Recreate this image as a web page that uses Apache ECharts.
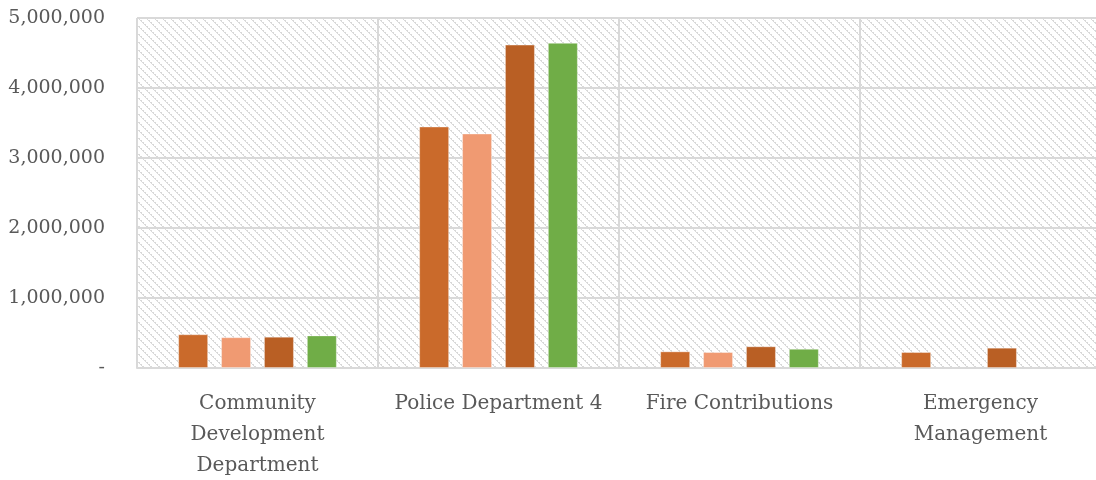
<!DOCTYPE html>
<html>
<head>
<meta charset="utf-8">
<script src="https://cdn.jsdelivr.net/npm/echarts@6/dist/echarts.min.js"></script>
<style>
  html, body { margin: 0; padding: 0; background: #ffffff; }
  #chart { width: 1096px; height: 480px; }
</style>
</head>
<body>
<div id="chart"></div>
<script>
// Departments (line breaks give the wrapped axis labels)
const categories = [
  'Community\nDevelopment\nDepartment',
  'Police Department 4',
  'Fire Contributions',
  'Emergency\nManagement'
];

// Four budget series per department
const series1 = [482000, 3450000, 238000, 228000];
const series2 = [440000, 3350000, 228000, null];
const series3 = [447000, 4620000, 310000, 290000];
const series4 = [466000, 4645000, 275000, null];

const yTicks = { min: 0, max: 5000000, step: 1000000 };

const seriesColors = ['#ca6a2b', '#f09a72', '#b95f24', '#70ad47'];

// Diagonal hatch tile for the plot background
function hatchTile() {
  const size = 8;
  const c = document.createElement('canvas');
  c.width = size; c.height = size;
  const ctx = c.getContext('2d');
  ctx.fillStyle = '#ffffff';
  ctx.fillRect(0, 0, size, size);
  ctx.fillStyle = '#d9d9d9';
  for (let y = 0; y < size; y++) {
    for (let x = 0; x < size; x++) {
      const d = ((x - y) % size + size) % size;
      if (d === 0 || (d === 1 && y % 2 === 0)) {
        ctx.fillRect(x, y, 1, 1);
      }
    }
  }
  return c;
}

const font = '"DejaVu Serif", serif';
const chart = echarts.init(document.getElementById('chart'), null, { renderer: 'canvas' });

function bar(data, color) {
  return {
    type: 'bar',
    data: data,
    barWidth: 30,
    barGap: '43%',
    itemStyle: { color: color, borderColor: 'rgba(255,255,255,0.35)', borderWidth: 1 }
  };
}

chart.setOption({
  animation: false,
  grid: {
    left: 137, right: -5, top: 18, bottom: 112,
    outerBoundsMode: 'none',
    containLabel: false,
    show: true,
    borderWidth: 0,
    backgroundColor: { image: hatchTile(), repeat: 'repeat' }
  },
  xAxis: {
    type: 'category',
    data: categories,
    axisLine: { show: true, lineStyle: { color: '#d9d9d9', width: 2 } },
    axisTick: { show: false },
    splitLine: { show: true, lineStyle: { color: '#d9d9d9', width: 2 } },
    axisLabel: {
      color: '#595959',
      fontFamily: font,
      fontSize: 20,
      lineHeight: 31,
      margin: 20,
      interval: 0
    }
  },
  yAxis: {
    type: 'value',
    min: yTicks.min,
    max: yTicks.max,
    interval: yTicks.step,
    axisLine: { show: false },
    axisTick: { show: false },
    splitLine: { show: true, lineStyle: { color: '#d9d9d9', width: 2 } },
    axisLabel: {
      color: '#595959',
      fontFamily: font,
      fontSize: 19,
      margin: 32,
      formatter: v => v === 0 ? '-' : v.toLocaleString('en-US')
    }
  },
  series: [
    bar(series1, seriesColors[0]),
    bar(series2, seriesColors[1]),
    bar(series3, seriesColors[2]),
    bar(series4, seriesColors[3])
  ]
});
</script>
</body>
</html>
